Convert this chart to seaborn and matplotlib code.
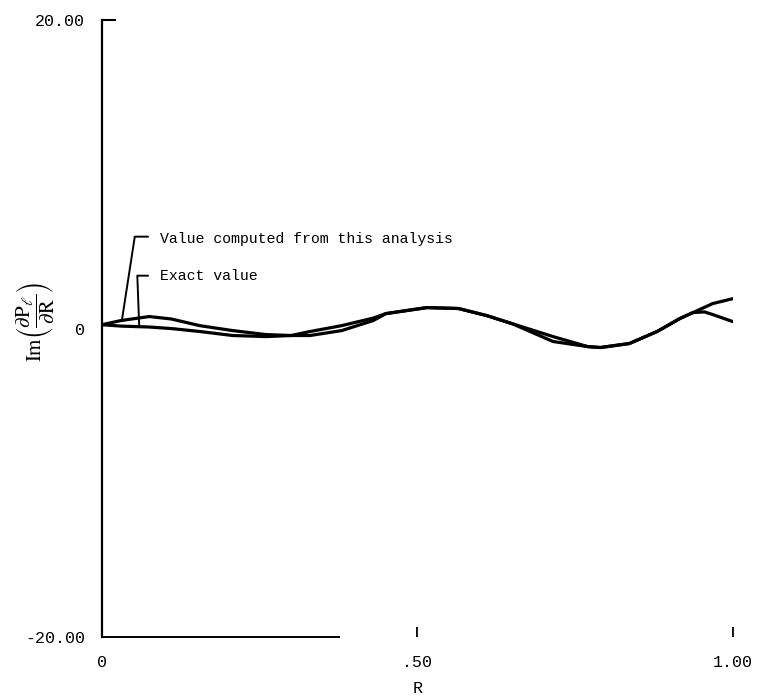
import matplotlib
matplotlib.use("Agg")
import matplotlib.pyplot as plt
import seaborn as sns
import pandas as pd

# ---- data ----
r_computed = [0.0, 0.03, 0.075, 0.11, 0.155, 0.207, 0.26, 0.30, 0.33, 0.38, 0.43,
              0.45, 0.515, 0.565, 0.61, 0.65, 0.715, 0.77, 0.79, 0.836, 0.88,
              0.916, 0.937, 0.955, 0.968, 1.0]
im_computed = [0.25, 0.52, 0.78, 0.62, 0.19, -0.13, -0.39, -0.45, -0.19, 0.19, 0.68,
               0.97, 1.36, 1.30, 0.84, 0.32, -0.84, -1.17, -1.23, -0.97, -0.19,
               0.65, 1.04, 1.08, 0.91, 0.45]

r_exact = [0.0, 0.03, 0.075, 0.11, 0.155, 0.207, 0.26, 0.30, 0.33, 0.38, 0.43,
           0.45, 0.515, 0.565, 0.61, 0.65, 0.715, 0.77, 0.79, 0.836, 0.88,
           0.916, 0.937, 0.968, 1.0]
im_exact = [0.25, 0.16, 0.10, 0.0, -0.19, -0.45, -0.52, -0.45, -0.45, -0.13, 0.52,
            0.97, 1.36, 1.30, 0.84, 0.32, -0.52, -1.17, -1.23, -0.97, -0.19,
            0.65, 1.04, 1.62, 1.94]

x_ticks = [0.0, 0.5, 1.0]
x_ticklabels = ["0", ".50", "1.00"]
y_ticks = [-20.0, 0.0, 20.0]
y_ticklabels = ["-20.00", "0", "20.00"]
y_marked_ticks = [20.0]

label_computed = "Value computed from this analysis"
label_exact = "Exact value"
# leader lines (data coords of the callout brackets)
lead_computed_x = [0.073, 0.052, 0.032]
lead_computed_y = [5.96, 5.96, 0.65]
lead_exact_x = [0.073, 0.056, 0.059]
lead_exact_y = [3.43, 3.43, 0.19]
text_x = 0.092
text_computed_y = 5.83
text_exact_y = 3.43

# ---- styling ----
sns.set_theme(style="white")
plt.rcParams["font.family"] = ["Liberation Mono", "DejaVu Sans Mono"]
plt.rcParams["mathtext.fontset"] = "stix"

fig = plt.figure(figsize=(7.61, 6.97), dpi=100)
ax = fig.add_axes([0.134, 0.0861, 0.829, 0.885])

df_c = pd.DataFrame({"R": r_computed, "Im": im_computed})
df_e = pd.DataFrame({"R": r_exact, "Im": im_exact})
sns.lineplot(data=df_c, x="R", y="Im", ax=ax, color="black", linewidth=2.3,
             sort=False, estimator=None)
sns.lineplot(data=df_e, x="R", y="Im", ax=ax, color="black", linewidth=2.3,
             sort=False, estimator=None)

ax.plot(lead_computed_x, lead_computed_y, color="black", linewidth=1.4)
ax.plot(lead_exact_x, lead_exact_y, color="black", linewidth=1.4)
ax.text(text_x, text_computed_y, label_computed, fontsize=10.7, ha="left",
        va="center", color="black")
ax.text(text_x, text_exact_y, label_exact, fontsize=10.7, ha="left",
        va="center", color="black")

ax.set_xlim(0, 1.0)
ax.set_ylim(-20, 20)
ax.set_xticks(x_ticks)
ax.set_xticklabels(x_ticklabels)
ax.set_yticks(y_ticks)
ax.set_yticklabels(y_ticklabels)
ax.yaxis.remove_overlapping_locs = False
ax.set_yticks(y_marked_ticks, minor=True)
ax.tick_params(axis="x", bottom=True, direction="in", length=7, width=1.3, pad=13,
               labelsize=12, colors="black")
ax.tick_params(axis="y", which="major", left=True, direction="in", length=0,
               pad=12, labelsize=12, colors="black")
ax.tick_params(axis="y", which="minor", left=True, direction="in", length=10,
               width=1.5, colors="black")

for s in ["top", "right"]:
    ax.spines[s].set_visible(False)
ax.spines["left"].set_color("black")
ax.spines["left"].set_linewidth(1.6)
ax.spines["bottom"].set_color("black")
ax.spines["bottom"].set_linewidth(1.4)
ax.spines["bottom"].set_bounds(0, 0.375)

ax.set_xlabel("R", fontsize=12, labelpad=8, color="black")
ax.set_ylabel("")
ax.text(-0.106, 0.51,
        r"$\mathrm{Im}\left(\dfrac{\partial \mathrm{P}_{\ell}}{\partial \mathrm{R}}\right)$",
        rotation=90, ha="center", va="center", fontsize=15,
        transform=ax.transAxes, color="black")

fig.savefig("out.png", dpi=100, facecolor="white")
